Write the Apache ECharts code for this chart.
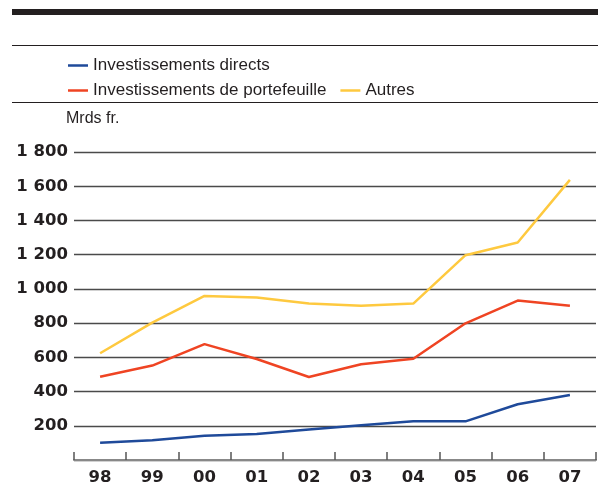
<!DOCTYPE html>
<html>
<head>
<meta charset="utf-8">
<script src="https://cdn.jsdelivr.net/npm/echarts@6/dist/echarts.min.js"></script>
<style>
  html, body { margin: 0; padding: 0; background: #fff; }
  #chart { width: 598px; height: 486px; }
</style>
</head>
<body>
<div id="chart"></div>
<script>
// années
const years = ['98', '99', '00', '01', '02', '03', '04', '05', '06', '07'];
// Mrds fr.
const directs = [101, 115, 142, 152, 178, 203, 226, 226, 326, 380];
const portefeuille = [487, 552, 677, 590, 485, 560, 592, 799, 932, 902];
const autres = [624, 803, 959, 949, 915, 902, 914, 1197, 1271, 1637];

const font = '"Liberation Sans", "DejaVu Sans", sans-serif';
const axisFont = '"DejaVu Sans", sans-serif';

let mychart = echarts.init(document.getElementById('chart'));

mychart.setOption({
    animation: false,
    textStyle: { fontFamily: font },
    graphic: [
        { type: 'rect', shape: { x: 12, y: 9, width: 586, height: 6 }, style: { fill: '#231f20' } },
        { type: 'line', shape: { x1: 12, y1: 45.5, x2: 598, y2: 45.5 }, style: { stroke: '#231f20', lineWidth: 1 } },
        { type: 'line', shape: { x1: 12, y1: 102.5, x2: 598, y2: 102.5 }, style: { stroke: '#231f20', lineWidth: 1 } },
        { type: 'text', left: 66, top: 111, style: { text: 'Mrds fr.', font: '16px ' + font, fill: '#231f20' } }
    ],
    legend: [
        {
            data: ['Investissements directs'],
            left: 63, top: 52,
            icon: 'rect', itemWidth: 20, itemHeight: 2.5,
            textStyle: { fontSize: 17, color: '#231f20', fontFamily: font }
        },
        {
            data: ['Investissements de portefeuille', 'Autres'],
            left: 63, top: 77,
            itemGap: 14,
            icon: 'rect', itemWidth: 20, itemHeight: 2.5,
            textStyle: { fontSize: 17, color: '#231f20', fontFamily: font }
        }
    ],
    grid: { left: 74, right: 2, top: 152, bottom: 26 },
    xAxis: {
        type: 'category',
        data: years,
        boundaryGap: true,
        axisLine: { show: true, lineStyle: { color: '#888', width: 2 } },
        axisTick: { show: true, inside: true, length: 8, alignWithLabel: false, lineStyle: { color: '#555', width: 1.5 } },
        axisLabel: { fontSize: 16.5, fontWeight: 'bold', color: '#231f20', margin: 9, fontFamily: axisFont }
    },
    yAxis: {
        type: 'value',
        min: 0, max: 1800, interval: 200,
        axisLine: { show: false },
        axisTick: { show: false },
        axisLabel: {
            fontSize: 16.5, fontWeight: 'bold', color: '#231f20', margin: 6, fontFamily: axisFont,
            formatter: function (v) {
                if (v === 0) return '';
                return v >= 1000 ? Math.floor(v / 1000) + ' ' + String(v % 1000).padStart(3, '0') : String(v);
            }
        },
        splitLine: { lineStyle: { color: '#4a4a4a', width: 1.3 } }
    },
    series: [
        {
            name: 'Investissements directs', type: 'line', data: directs,
            symbol: 'none', lineStyle: { color: '#1f4a9a', width: 2.5 }, itemStyle: { color: '#1f4a9a' }
        },
        {
            name: 'Investissements de portefeuille', type: 'line', data: portefeuille,
            symbol: 'none', lineStyle: { color: '#ef4423', width: 2.5 }, itemStyle: { color: '#ef4423' }
        },
        {
            name: 'Autres', type: 'line', data: autres,
            symbol: 'none', lineStyle: { color: '#fec93f', width: 2.5 }, itemStyle: { color: '#fec93f' }
        }
    ]
});
</script>
</body>
</html>
